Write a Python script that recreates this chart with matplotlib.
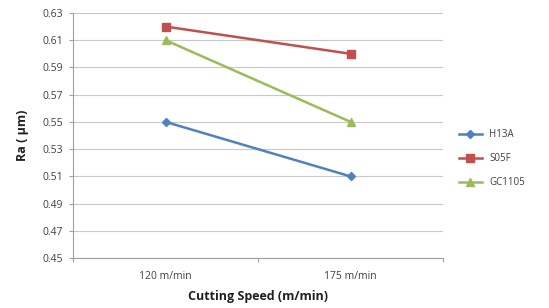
import matplotlib.pyplot as plt
import numpy as np

speeds = ['120 m/min', '175 m/min']
h13a = [0.55, 0.51]
s05f = [0.62, 0.60]
gc1105 = [0.61, 0.55]
yticks = np.arange(0.45, 0.631, 0.02)

plt.rcParams['font.family'] = ['Open Sans', 'DejaVu Sans']

fig = plt.figure(figsize=(5.49, 3.08), dpi=100)
ax = fig.add_axes([0.133, 0.162, 0.674, 0.796])

x = np.arange(len(speeds)) + 0.5
ax.plot(x, h13a, color='#4F81BD', marker='D', markersize=4.5, linewidth=1.8, label='H13A')
ax.plot(x, s05f, color='#C0504D', marker='s', markersize=5.5, linewidth=1.8, label='S05F')
ax.plot(x, gc1105, color='#9BBB59', marker='^', markersize=6, linewidth=1.8, label='GC1105')

ax.set_xlim(0, 2)
ax.set_ylim(0.45, 0.63)
ax.set_yticks(yticks)
ax.set_yticklabels(['%.2f' % v for v in yticks])
ax.set_xticks([0, 1, 2])
ax.set_xticklabels([])
ax.set_xticks(x, minor=True)
ax.set_xticklabels(speeds, minor=True)
ax.tick_params(axis='x', which='minor', length=0, labelsize=7.5, labelcolor='#404040', pad=9)
ax.tick_params(axis='x', which='major', length=3, color='#a0a0a0')
ax.tick_params(axis='y', length=3, color='#a0a0a0', labelsize=7.5, labelcolor='#404040', pad=4)

ax.grid(axis='y', color='#c8c8c8', linewidth=0.8)
ax.set_axisbelow(True)
for s in ['top', 'right']:
    ax.spines[s].set_visible(False)
for s in ['left', 'bottom']:
    ax.spines[s].set_color('#a0a0a0')
    ax.spines[s].set_linewidth(0.8)

ax.set_xlabel('Cutting Speed (m/min)', fontsize=9, fontweight='bold', color='#202020', labelpad=6)
ax.set_ylabel('Ra ( µm)', fontsize=9, fontweight='bold', color='#202020', labelpad=10)

ax.legend(loc='center left', bbox_to_anchor=(1.02, 0.405), frameon=False, fontsize=7,
          handlelength=2.3, labelspacing=1.35, labelcolor='#404040')

plt.savefig('out.png', dpi=100)
